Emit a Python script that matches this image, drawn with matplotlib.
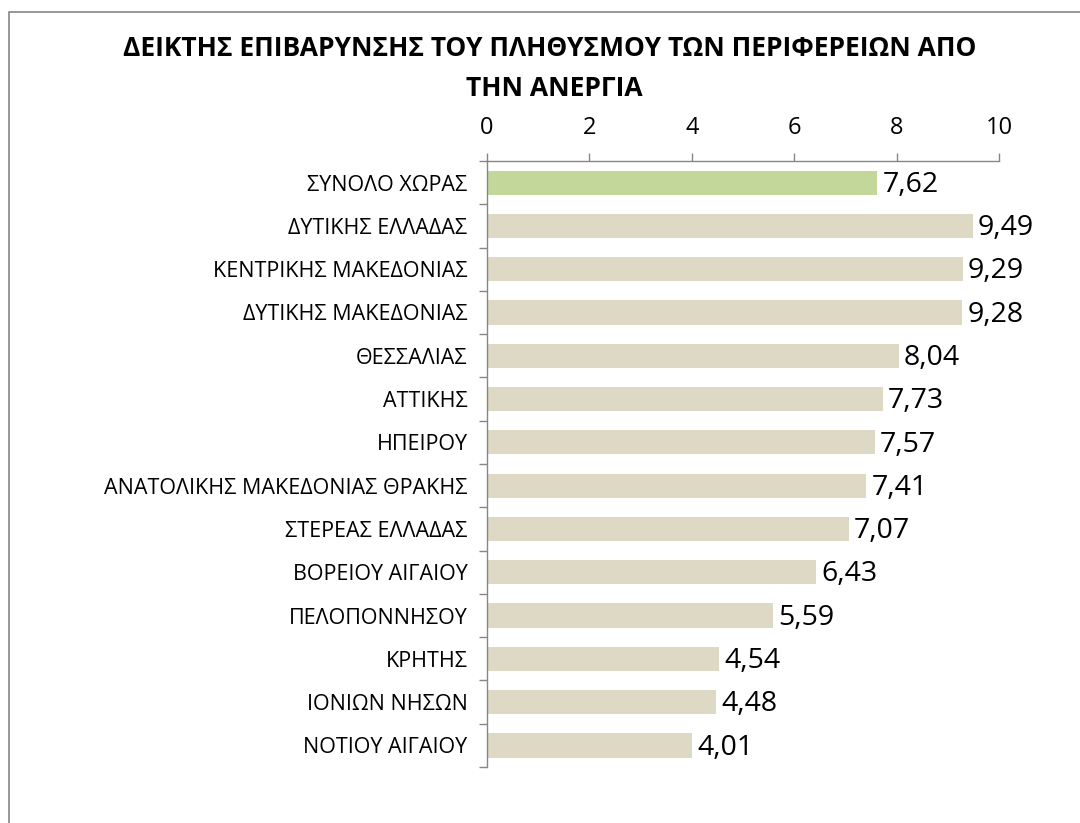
import matplotlib.pyplot as plt
from matplotlib.patches import Rectangle

regions = [
    "ΣΥΝΟΛΟ ΧΩΡΑΣ",
    "ΔΥΤΙΚΗΣ ΕΛΛΑΔΑΣ",
    "ΚΕΝΤΡΙΚΗΣ ΜΑΚΕΔΟΝΙΑΣ",
    "ΔΥΤΙΚΗΣ ΜΑΚΕΔΟΝΙΑΣ",
    "ΘΕΣΣΑΛΙΑΣ",
    "ΑΤΤΙΚΗΣ",
    "ΗΠΕΙΡΟΥ",
    "ΑΝΑΤΟΛΙΚΗΣ ΜΑΚΕΔΟΝΙΑΣ ΘΡΑΚΗΣ",
    "ΣΤΕΡΕΑΣ ΕΛΛΑΔΑΣ",
    "ΒΟΡΕΙΟΥ ΑΙΓΑΙΟΥ",
    "ΠΕΛΟΠΟΝΝΗΣΟΥ",
    "ΚΡΗΤΗΣ",
    "ΙΟΝΙΩΝ ΝΗΣΩΝ",
    "ΝΟΤΙΟΥ ΑΙΓΑΙΟΥ",
]
values = [7.62, 9.49, 9.29, 9.28, 8.04, 7.73, 7.57, 7.41, 7.07, 6.43, 5.59, 4.54, 4.48, 4.01]
x_ticks = [0, 2, 4, 6, 8, 10]

plt.rcParams["font.family"] = ["Open Sans", "DejaVu Sans"]

GREEN = "#C4D79B"
TAN = "#DDD9C4"
AXIS = "#868686"

fig = plt.figure(figsize=(10.8, 8.23), dpi=100)
ax = fig.add_axes([0.4509, 0.068, 0.4741, 0.7364])

n = len(regions)
ypos = list(range(n))
colors = [GREEN] + [TAN] * (n - 1)
ax.barh(ypos, values, height=0.56, color=colors, edgecolor="none")

for y, v in zip(ypos, values):
    ax.text(v + 0.1, y + 0.05, f"{v:.2f}".replace(".", ","), va="center", ha="left",
            fontsize=20.5, color="black")

ax.set_xlim(0, 10)
ax.set_ylim(n - 0.5, -0.5)
ax.xaxis.tick_top()
ax.set_xticks(x_ticks)
ax.set_xticklabels([str(t) for t in x_ticks], fontsize=17)
ax.tick_params(axis="x", direction="out", length=6, width=1, color=AXIS, pad=9)

# category labels centred on bars, tick marks between categories
ax.set_yticks(ypos)
ax.set_yticklabels(regions, fontsize=15.5)
ax.tick_params(axis="y", which="major", length=0, pad=14)
ax.set_yticks([i - 0.5 for i in range(n + 1)], minor=True)
ax.tick_params(axis="y", which="minor", direction="out", length=6, width=1, color=AXIS)

for side in ("right", "bottom"):
    ax.spines[side].set_visible(False)
for side in ("top", "left"):
    ax.spines[side].set_color(AXIS)
    ax.spines[side].set_linewidth(1)

fig.text(0.509, 0.941, "ΔΕΙΚΤΗΣ ΕΠΙΒΑΡΥΝΣΗΣ ΤΟΥ ΠΛΗΘΥΣΜΟΥ ΤΩΝ ΠΕΡΙΦΕΡΕΙΩΝ ΑΠΟ",
         ha="center", va="center", fontsize=19, fontweight="bold")
fig.text(0.513, 0.893, "ΤΗΝ ΑΝΕΡΓΙΑ", ha="center", va="center",
         fontsize=19, fontweight="bold")

# chart area border (only top and left edges are inside the image)
fig.patches.append(Rectangle((9 / 1080, -0.05), 1.2, 1 - 12 / 823 + 0.05,
                             transform=fig.transFigure, fill=False,
                             edgecolor=AXIS, linewidth=1.2))

fig.savefig("out.png", dpi=100)
